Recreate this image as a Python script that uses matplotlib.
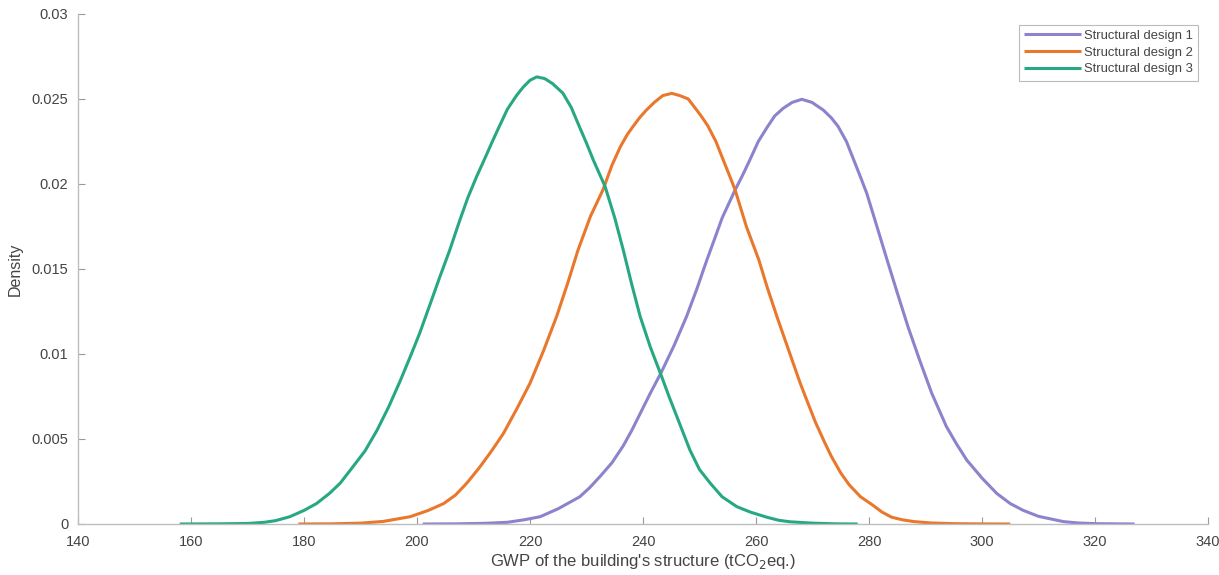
import matplotlib
matplotlib.use("Agg")
import matplotlib.pyplot as plt

# values
design1_x = [201, 207, 212, 216, 219, 221.8, 225, 228.8, 230.6, 232.4, 234.5, 236.5, 238, 239.5,
             241.3, 243.2, 245.5, 247.7, 249.5, 251.3, 252.7, 254, 256.3, 257.6, 258.9, 260.4,
             261.9, 263.3, 264.8, 266.4, 268.1, 269.9, 271.9, 273.3, 274.5, 276, 277.3, 278.5,
             279.6, 281.4, 283.2, 285, 286.9, 289, 291.1, 293.7, 295.5, 297.3, 300, 302.6, 305,
             307.3, 310, 314.4, 317, 320, 327]
design1_y = [0, 0.00001, 0.00004, 0.0001, 0.00025, 0.00043, 0.0009, 0.0016, 0.00215, 0.0028, 0.0036,
             0.0046, 0.0055, 0.0065, 0.0077, 0.0089, 0.0105, 0.0122, 0.0138, 0.01553, 0.0168,
             0.018, 0.01965, 0.0205, 0.02141, 0.0225, 0.0233, 0.0240, 0.02445, 0.0248, 0.02498,
             0.0248, 0.02435, 0.0239, 0.0234, 0.0225, 0.02141, 0.0204, 0.01945, 0.0175, 0.01553,
             0.0136, 0.0116, 0.0096, 0.00769, 0.00573, 0.0047, 0.00376, 0.0027, 0.0018, 0.0012,
             0.0008, 0.00045, 0.00014, 0.00006, 0.00002, 0]

design2_x = [179, 185, 190, 194, 198.8, 202, 204.7, 206.8, 208.8, 211, 213.2, 215.3, 217.7, 220,
             222.4, 224.7, 226.7, 228.5, 230.7, 232.9, 234.5, 236, 237.2, 238.2, 239.4, 240.6, 242,
             243.5, 245.1, 246.5, 248, 249.5, 250.5, 251.5, 252.9, 254.2, 255.3, 256.3, 258.3,
             260.5, 262, 263.7, 265.8, 267.8, 269.2, 270.5, 272, 273.3, 275, 276.5, 278.5, 280.7,
             282.3, 284, 286, 288, 291, 295, 300, 305]
design2_y = [0, 0.00001, 0.00005, 0.00015, 0.00043, 0.0008, 0.0012, 0.0017, 0.0024, 0.0033, 0.0043,
             0.00533, 0.0068, 0.00828, 0.0102, 0.0122, 0.0142, 0.01612, 0.0181, 0.01965, 0.0211,
             0.0222, 0.0229, 0.02337, 0.0239, 0.02435, 0.0248, 0.0252, 0.02533, 0.0252, 0.0250,
             0.02435, 0.0239, 0.0234, 0.0225, 0.02141, 0.0205, 0.01965, 0.01749, 0.01553, 0.0139,
             0.0122, 0.0102, 0.0083, 0.0071, 0.006, 0.0049, 0.004, 0.003, 0.0023, 0.0016, 0.0011,
             0.0007, 0.0004, 0.00024, 0.00014, 0.00006, 0.00002, 0.000005, 0]

design3_x = [158, 165, 170, 173, 175, 177.5, 180, 182.2, 184.5, 186.4, 188.5, 190.8, 192.9, 195, 197,
             199, 200.5, 202.5, 204, 205.8, 207.5, 209, 210.5, 212, 213.2, 214.3, 216, 217.6, 218.8,
             220, 221.2, 222.6, 224, 225.8, 227.3, 228.7, 230, 231.2, 233.3, 235, 236.5, 238, 239.5,
             241.3, 243.2, 244.6, 246, 248.3, 250, 251.9, 254, 256.6, 259, 261.9, 264, 266, 270,
             274, 278]
design3_y = [0, 0.00001, 0.00003, 0.0001, 0.0002, 0.00043, 0.0008, 0.0012, 0.0018, 0.0024, 0.0033,
             0.0043, 0.0055, 0.0069, 0.0084, 0.0100, 0.01125, 0.0131, 0.0145, 0.01612, 0.0178,
             0.0192, 0.0204, 0.0215, 0.0224, 0.0232, 0.0244, 0.0252, 0.0257, 0.0261, 0.0263,
             0.0262, 0.0259, 0.02535, 0.0245, 0.0234, 0.0224, 0.02141, 0.01984, 0.018, 0.01612,
             0.0141, 0.0122, 0.0104, 0.00876, 0.0075, 0.00631, 0.00435, 0.0032, 0.0024, 0.0016,
             0.00102, 0.0007, 0.0004, 0.00022, 0.00013, 0.00005, 0.00001, 0]

labels = ["Structural design 1", "Structural design 2", "Structural design 3"]
colors = ["#8b84cc", "#e9782c", "#27a883"]
x_ticks = [140, 160, 180, 200, 220, 240, 260, 280, 300, 320, 340]
y_ticks = [0, 0.005, 0.01, 0.015, 0.02, 0.025, 0.03]
y_ticklabels = ["0", "0.005", "0.01", "0.015", "0.02", "0.025", "0.03"]

plt.rcParams["font.family"] = ["Liberation Sans", "DejaVu Sans"]

fig = plt.figure(figsize=(12.19, 5.75), dpi=100)
ax = fig.add_axes([0.064, 0.0887, 0.927, 0.887])

series = [(design1_x, design1_y), (design2_x, design2_y), (design3_x, design3_y)]
for (xs, ys), label, color in zip(series, labels, colors):
    ax.plot(xs, ys, color=color, linewidth=2.2, label=label,
            solid_capstyle="butt", solid_joinstyle="round")

ax.set_xlim(140, 340)
ax.set_ylim(0, 0.03)
ax.set_xticks(x_ticks)
ax.set_yticks(y_ticks)
ax.set_yticklabels(y_ticklabels)

spine_color = "#bdbdbd"
text_color = "#444444"
for side in ("top", "right"):
    ax.spines[side].set_visible(False)
for side in ("left", "bottom"):
    ax.spines[side].set_color(spine_color)
    ax.spines[side].set_linewidth(1.0)
ax.tick_params(direction="in", length=5, width=0.8, color="#999999",
               labelcolor=text_color, labelsize=10.5)
ax.tick_params(axis="x", pad=8)
ax.tick_params(axis="y", pad=7)

ax.set_xlabel("GWP of the building's structure (tCO$_2$eq.)", fontsize=12, color=text_color, labelpad=2)
ax.set_ylabel("Density", fontsize=11.5, color=text_color, labelpad=6)

leg = ax.legend(loc="upper right", bbox_to_anchor=(0.9912, 0.979), fontsize=9.4, frameon=True,
                fancybox=False, handlelength=4.4, handletextpad=0.2, borderpad=0.4,
                labelspacing=0.35, borderaxespad=0)
leg.get_frame().set_edgecolor("#aaaaaa")
leg.get_frame().set_linewidth(0.8)
for t in leg.get_texts():
    t.set_color(text_color)

fig.savefig("out.png", dpi=100)
